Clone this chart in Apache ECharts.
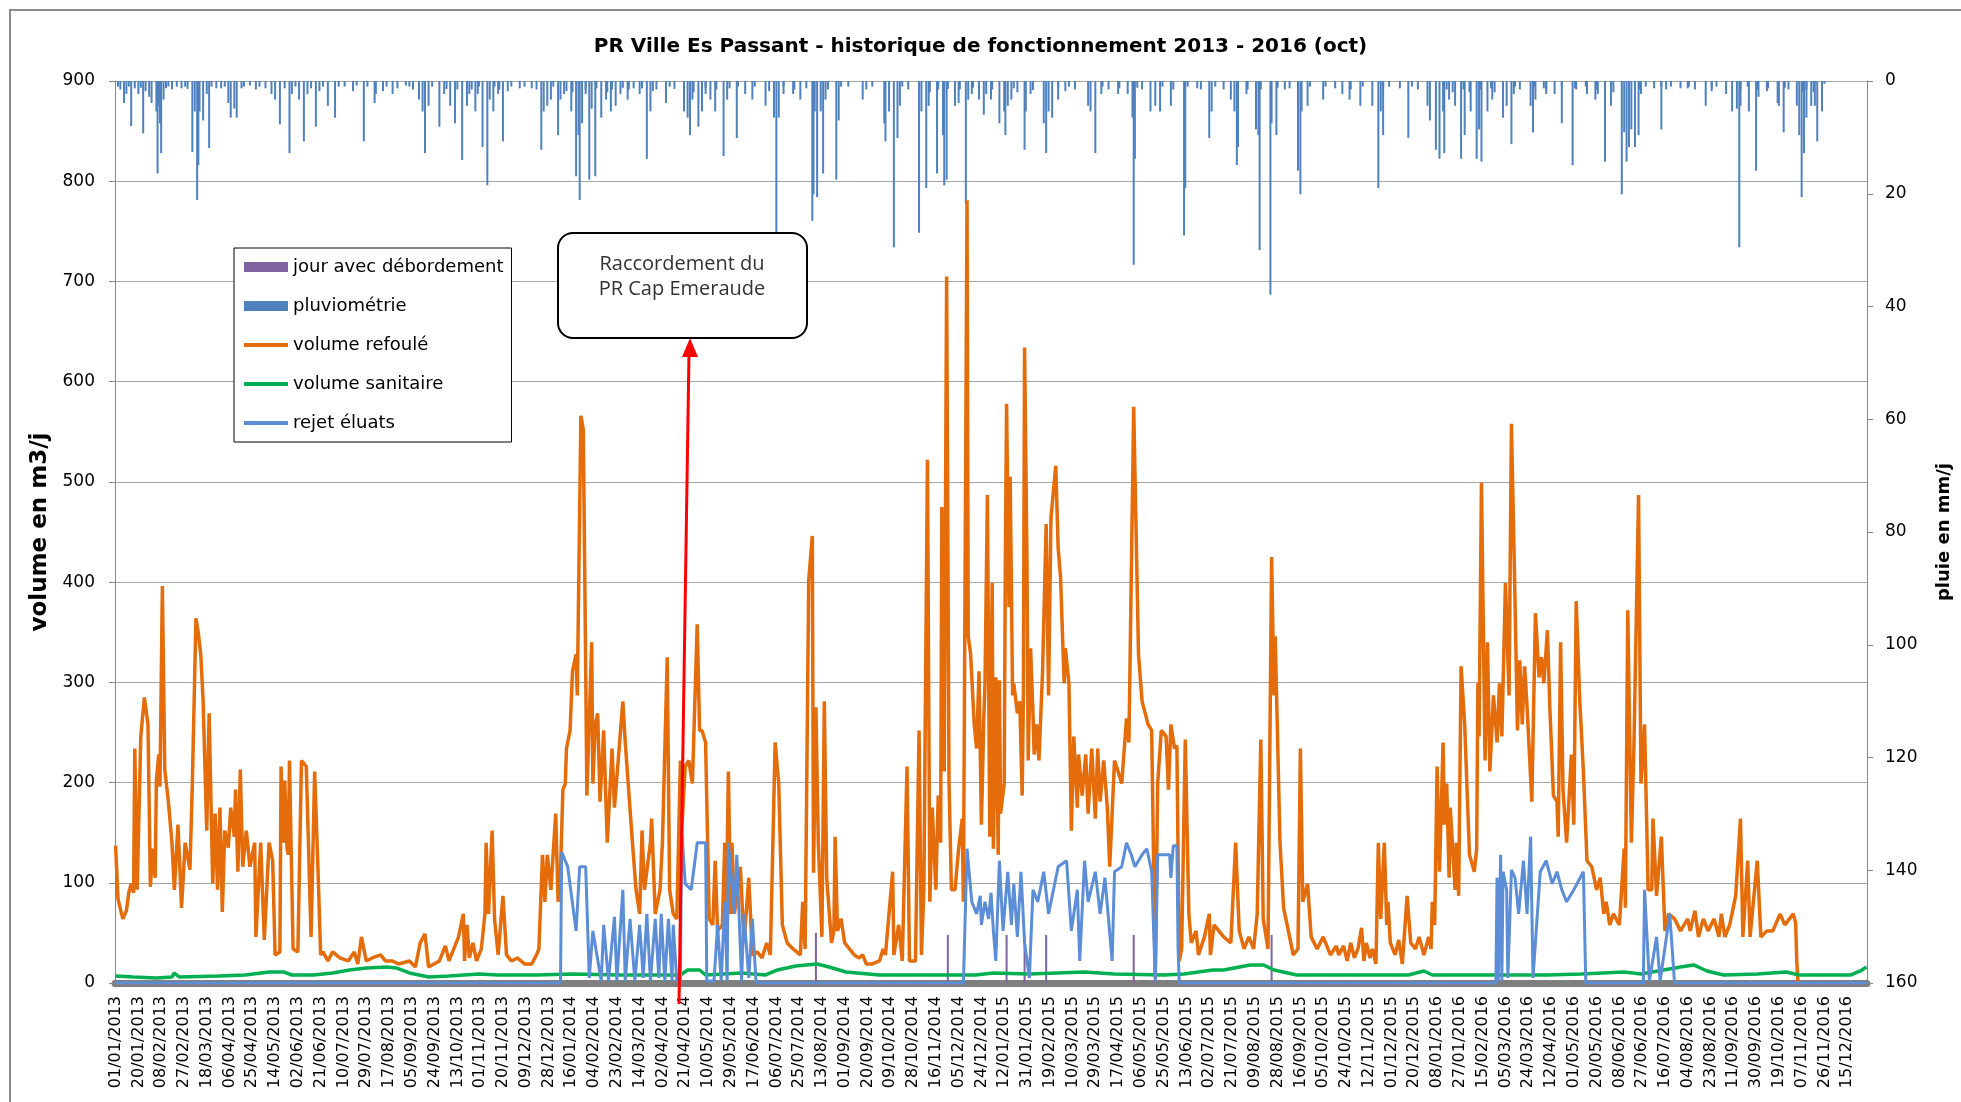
<!DOCTYPE html>
<html>
<head>
<meta charset="utf-8">
<title>PR Ville Es Passant</title>
<script src="https://cdn.jsdelivr.net/npm/echarts@6/dist/echarts.min.js"></script>
<style>
  html, body { margin: 0; padding: 0; background: #fff; }
  #graph { width: 1961px; height: 1102px; }
</style>
</head>
<body>
<div id="graph"></div>
<script>
// jours du 01/01/2013 au 31/12/2016 (axe de categories)
const premierJour = Date.UTC(2013, 0, 1);
const nbJours = 1461;
const jours = [];
for (let i = 0; i < nbJours; i++) {
  const d = new Date(premierJour + i * 86400000);
  const jj = String(d.getUTCDate()).padStart(2, '0');
  const mm = String(d.getUTCMonth() + 1).padStart(2, '0');
  jours.push(jj + '/' + mm + '/' + d.getUTCFullYear());
}

// [indice du jour, m3/j]
const refoule = [[0,137],[2,84],[6,64],[9,72],[11,90],[13,99],[15,90],[16,234],[18,93],[21,246],[24,285],[27,258],[29,96],[31,134],[33,105],[34,202],[36,228],[37,196],[39,396],[41,213],[44,181],[47,140],[49,93],[52,158],[55,75],[58,140],[62,113],[64,199],[67,364],[69,349],[71,328],[73,281],[76,152],[78,269],[81,99],[83,169],[85,93],[87,175],[89,71],[91,152],[94,135],[96,175],[99,146],[100,193],[102,111],[104,213],[106,116],[109,152],[112,116],[116,140],[117,46],[121,140],[124,43],[128,140],[131,122],[133,28],[137,31],[138,216],[140,140],[141,202],[143,134],[144,128],[145,222],[148,34],[152,31],[155,222],
  [159,216],[163,46],[166,211],[169,105],[171,28],[173,31],[177,22],[181,31],[187,25],[194,22],[199,31],[202,19],[205,46],[209,22],[214,25],[221,28],[225,22],[231,22],[236,19],[245,22],[250,16],[254,40],[258,49],[261,16],[270,22],[275,37],[278,22],[282,34],[286,46],[290,69],[291,22],[293,58],[295,25],[298,40],[301,22],[305,34],[308,69],[309,140],[311,69],[314,152],[316,64],[319,28],[323,87],[326,28],[330,22],[335,25],[341,19],[347,19],[351,28],[353,34],[356,128],[358,81],[360,128],[363,93],[367,169],[369,81],[371,111],[373,193],[375,199],[376,234],[379,252],[381,311],[384,328],[385,287],[388,566],[390,552],[392,316],[393,187],[397,340],[398,199],[400,258],[402,269],[404,181],[407,252],[410,140],[414,234],[416,175],[423,281],[425,240],[431,140],[434,93],[437,69],[439,152],[441,93],[446,140],[447,164],[450,69],[454,93],[456,140],[460,325],[462,93],[465,69],[468,64],
  [471,222],[472,150],[475,216],[478,222],[481,199],[485,358],[487,252],[489,252],[492,240],[495,64],[498,58],[500,122],[502,52],[506,58],[508,140],[509,52],[511,211],[513,69],[514,140],[516,69],[518,87],[521,116],[524,40],[528,105],[531,28],[535,31],[539,25],[543,40],[546,28],[550,240],[553,199],[556,58],[560,40],[565,34],[571,28],[573,81],[575,34],[578,402],[581,446],[582,110],[584,275],[586,140],[589,46],[591,281],[593,105],[597,40],[599,52],[600,146],[602,52],[605,64],[608,40],[612,34],[616,28],[620,25],[623,28],[626,19],[631,19],[637,22],[640,34],[642,28],[648,111],[649,28],[653,58],[656,22],[660,216],[662,22],[667,22],[670,252],[672,28],[674,93],[677,522],[679,81],[681,175],[684,93],[686,187],[688,140],[689,475],[691,211],[693,705],[695,199],[697,93],[700,93],[703,134],[706,164],[707,81],[710,781],[711,346],[713,328],[716,258],[718,234],[720,311],[722,158],[724,264],[725,299],[727,487],[729,146],[731,399],[732,134],[734,305],[736,128],[737,302],[738,169],[741,199],[742,428],[743,578],[745,375],[746,505],[748,287],[749,299],[752,269],[754,281],[756,187],[757,287],[758,634],[760,422],[761,222],[763,334],[765,269],[766,228],[768,258],[770,222],[773,311],[776,458],[778,287],[780,464],
  [784,516],[786,434],[788,405],[791,299],[792,334],[795,299],[797,152],[799,246],[802,175],[803,228],[806,187],[809,228],[811,169],[814,234],[817,164],[819,234],[821,181],[824,222],[827,175],[829,116],[833,222],[836,211],[839,199],[843,264],[845,240],[849,575],[853,328],[856,281],[861,258],[864,252],[867,5],[869,199],[872,252],[876,246],[878,193],[880,258],[883,234],[885,237],[887,22],[889,34],[892,243],[895,69],[897,40],[901,52],[903,28],[908,46],[912,69],[913,28],[916,58],[920,52],[924,46],[930,40],[934,140],[937,52],[941,34],[945,46],[949,34],[952,69],[955,243],[957,64],[961,34],[964,425],[966,287],[967,346],[971,140],[974,75],[978,52],[982,28],[986,34],[988,234],[990,81],[994,99],[997,46],[1002,34],[1007,46],[1013,28],[1018,37],[1020,28],[1024,37],[1027,22],[1030,40],[1033,25],[1036,34],[1039,55],[1041,22],[1043,40],[1046,25],[1048,34],[1051,19],[1053,140],[1055,64],[1058,140],[1060,58],[1061,81],[1063,40],[1067,28],[1070,43],[1073,19],[1077,87],[1080,40],[1084,34],[1087,46],[1091,28],
  [1095,46],[1097,34],[1098,81],[1100,58],[1102,216],[1104,111],[1107,240],[1108,158],[1110,199],[1112,105],[1113,175],[1117,93],[1118,140],[1120,87],[1122,316],[1125,258],[1129,128],[1133,111],[1135,134],[1136,299],[1137,246],[1139,499],[1142,222],[1144,340],[1146,211],[1149,287],[1152,240],[1154,299],[1156,246],[1159,399],[1162,287],[1164,558],[1167,380],[1169,252],[1171,322],[1173,258],[1175,316],[1177,276],[1181,181],[1184,369],[1187,305],[1189,325],[1191,299],[1194,352],[1196,276],[1199,187],[1202,181],[1203,146],[1205,340],[1207,193],[1210,140],[1214,228],[1216,158],[1218,381],[1221,281],[1224,211],[1227,122],[1231,116],[1235,93],[1238,105],[1241,69],[1243,81],[1246,58],[1249,69],[1254,58],[1258,134],[1259,75],[1261,372],[1264,140],[1266,228],[1270,487],[1272,199],[1275,258],[1278,93],[1281,93],[1282,164],[1285,87],[1289,146],[1292,52],[1295,69],[1300,64],[1305,52],[1311,64],[1313,52],[1317,72],[1320,46],[1324,64],[1328,52],[1333,64],[1337,46],[1339,69],[1342,46],[1346,58],[1351,87],[1355,164],[1357,46],[1361,122],[1363,46],[1369,122],[1372,46],[1377,52],[1382,52],[1388,69],[1392,58],[1399,69],[1401,60],[1402,20],[1403,0]];

const sanitaire = [[0,7],[15,6],[34,5],[47,6],[49,10],[53,6],[86,7],[108,8],[128,11],[140,11],[147,8],[165,8],[181,10],[195,13],[209,15],[226,16],[234,15],[245,10],[261,6],[278,7],[303,9],[319,8],[351,8],[381,9],[421,8],[471,8],[477,13],[487,13],[492,8],[522,10],[542,8],[552,13],[567,17],[585,19],[595,16],[609,11],[637,8],[692,8],[717,8],[732,10],[762,9],[808,11],[833,9],[874,8],[891,9],[915,13],[924,13],[946,18],[957,18],[966,13],[985,8],[1020,8],[1078,8],[1091,12],[1098,8],[1167,8],[1194,8],[1222,9],[1258,11],[1272,9],[1305,16],[1316,18],[1327,12],[1341,8],[1369,9],[1393,11],[1404,8],[1447,8],[1455,12],[1460,16]];

const eluats = [[0,0],[371,0],[372,131],[377,116],[384,52],[387,116],[392,116],[395,5],[398,52],[405,2],[407,58],[411,2],[416,66],[418,2],[423,93],[425,2],[429,64],[433,2],[437,58],[440,5],[443,69],[446,2],[450,64],[453,5],[455,69],[458,2],[461,64],[464,2],[465,58],[468,2],[471,2],[472,155],[475,99],[480,93],[485,140],[492,140],[493,2],[499,2],[502,58],[505,2],[508,81],[510,2],[511,140],[516,69],[518,128],[522,2],[524,69],[528,5],[531,64],[534,2],[535,0],
  [707,0],[710,134],[714,81],[718,69],[721,87],[722,58],[725,81],[728,64],[730,90],[732,52],[734,22],[737,122],[740,52],[744,111],[747,58],[749,99],[752,46],[755,111],[758,40],[762,5],[765,93],[769,81],[774,111],[778,69],[786,116],[793,122],[797,52],[802,93],[804,22],[808,122],[811,81],[817,111],[821,69],[825,105],[831,22],[833,111],[839,116],[843,140],[847,128],[850,116],[856,128],[860,134],[864,111],[867,2],[869,128],[879,128],[880,105],[882,137],[885,137],[886,34],[887,0],
  [1151,0],[1152,105],[1153,2],[1155,128],[1156,2],[1157,111],[1160,93],[1161,5],[1164,113],[1167,105],[1170,69],[1174,122],[1177,69],[1180,146],[1182,5],[1185,58],[1188,111],[1193,122],[1198,99],[1202,111],[1206,93],[1210,81],[1216,93],[1224,111],[1226,0],
  [1274,0],[1275,93],[1279,2],[1285,46],[1288,2],[1296,69],[1300,0],[1460,0]];

const debordement = [[584,50],[694,48],[743,48],[758,48],[776,48],[849,48],[964,48]];

// [indice du jour, mm/j]
const pluie = [[7,3.9],[9,2.3],[13,8],[16,1.3],[19,2.3],[23,9.3],[25,1.8],[28,2.8],[30,3.9],[34,5.4],[35,16.4],[36,4.4],[37,7.5],[38,12.8],[40,3.3],[42,1.3],[55,1.3],[64,12.6],[66,5.4],[68,21.1],[69,14.9],[70,5.4],[73,7],[76,2.3],[78,11.9],[84,1.3],[94,3.9],[96,6.5],[99,4.9],[101,6.5],[105,1.3],[112,0.8],[125,1.3],[130,2.3],[133,3.3],[137,7.7],[141,1.3],
  [145,12.8],[147,2.3],[153,3.3],[157,10.7],[160,2.3],[163,1.3],[167,8.1],[170,1.8],[177,4.4],[183,6.5],[198,1.8],[207,10.7],[216,3.9],[217,2.3],[223,1.8],[231,2.3],[235,1.3],[242,0.8],[253,3.3],[256,5.4],[258,12.8],[261,4.4],[270,8.1],[274,2.3],[279,4.4],[283,7.5],[289,14],
  [293,4.4],[295,2.3],[300,5.4],[302,2.3],[306,11.7],[310,18.5],[312,3.3],[315,5.4],[319,2.3],[323,10.7],[327,1.8],[337,1.3],[347,1.3],[355,12.2],[357,5.4],[360,4.4],[363,3.3],[369,9.6],[371,3.3],[374,2.3],[380,5.4],[384,16.9],[386,9.6],[387,21.1],[389,7.5],[392,2.3],[395,17.5],[397,4.9],[400,16.9],[405,6.5],[409,3.3],[413,5.4],[417,4.4],[421,2.3],[427,3.3],[432,1.3],
  [437,2.3],[443,13.8],[446,5.4],[448,1.8],[459,3.9],[474,5.4],[477,6.5],[479,9.6],[481,3.3],[486,8.1],[489,5.4],[492,2.3],[496,3.3],[500,5.4],[507,13.3],[510,3.3],[518,10.1],[525,2.3],[531,3.3],[542,4.4],[545,1.8],[549,6.5],[551,31.6],[553,6.5],[557,2.3],[565,2.3],[571,3.3],[576,1.3],[581,24.8],[582,20.1],
  [583,5.4],[585,20.6],[588,5.4],[590,16.4],[592,3.3],[601,17.5],[603,7],[623,3.3],[641,7.5],[642,10.7],[645,5.4],[649,29.5],[652,10.1],[654,4.4],[670,26.9],[672,5.4],[676,19],[678,4.4],[685,16.4],[690,9.6],[691,18.5],[693,17.5],[700,4.4],[703,3.9],[709,21.7],[711,3.3],[714,2.3],[720,3.3],[724,6],[726,2.3],
  [730,3.3],[737,7.5],[741,5.4],[742,9.6],[744,4.4],[747,3.3],[758,12.2],[759,5.4],[763,2.3],[774,7.5],[776,12.8],[778,5.4],[781,6.5],[786,3.3],[792,1.8],[811,4.4],[813,5.4],[817,12.8],[822,2.3],[836,2.3],[844,2.3],[848,6.5],[849,32.6],[850,13.8],[863,5.4],[867,4.4],[871,5.4],
  [880,4.4],[891,27.4],[892,19],[902,1.3],[912,10.1],[914,5.4],[930,3.3],[933,5.4],[935,14.9],[936,11.7],[943,2.3],[951,8.6],[953,9.6],[954,30],[963,37.9],[964,7.5],[968,9.6],[986,15.9],[988,20.1],[989,5.4],[994,4.4],[1007,3.3],[1017,1.3],
  [1023,2.3],[1029,3.3],[1038,4.4],[1048,4.4],[1053,19],[1055,5.4],[1057,9.6],[1071,1.3],[1078,10.1],[1094,4.4],[1096,7],[1101,12.2],[1104,13.8],[1107,5.4],[1108,12.8],[1112,3.3],[1117,4.4],[1122,13.8],[1125,9.6],[1130,5.4],[1135,13.8],[1137,8.6],[1139,14.3],[1144,5.4],[1148,3.3],[1157,6.5],[1160,4.4],[1164,11.2],[1166,2.3],
  [1180,4.4],[1182,9.1],[1184,3.3],[1191,1.3],[1193,2.3],[1200,2.3],[1206,7.5],[1215,14.9],[1217,1.3],[1227,2.3],[1234,3.3],[1236,2.3],[1242,14.3],[1247,4.4],[1256,20.1],[1258,9.1],[1260,14.3],[1262,11.7],[1264,8.6],[1267,11.7],[1270,9.6],[1272,2.3],[1283,1.3],[1289,8.6],[1305,1.3],[1311,1.3],
  [1326,4.4],[1331,1.8],[1343,2.3],[1348,5.4],[1352,4.9],[1354,29.5],[1355,4.4],[1362,5.4],[1368,15.9],[1370,2.8],[1377,1.8],[1386,3.9],[1387,4.4],[1391,9.1],[1402,4.4],[1404,9.6],[1406,20.6],[1408,12.8],[1410,6.5],[1414,4.4],[1417,4.4],[1419,10.7],[1423,5.4],[1425,0.5]];

// petites pluies (frange en haut du graphique)
const pluieFaible = [[2,1],[4,1.5],[11,1],[21,1.2],[44,1],[47,1.5],[51,1],[58,1],[60,1.4],[80,1],[88,1.3],[91,1],[107,1],[117,1.5],[120,1],[150,1],[173,1],[186,1],[191,1],[201,0.8],[210,1],[226,1],[245,1],[248,1.5],[264,1],[276,1.4],[285,1.5],[297,1.5],[303,1],[316,1],[320,1.5],[330,1],[341,1],[351,1.5],[365,1],[376,1.8],[381,2],[392,1.5],[401,1.3],[410,2],[414,1.5],[423,1.2],[428,1.5],[439,1.3],[451,1.5],[462,1],[466,1.4],[482,2],[492,1.2],[501,1.5],[512,1.3],[519,1],[533,1],[557,1],[566,1.5],[594,1.5],[605,1],[611,1],[626,1.5],[631,1],[656,1],[661,1.5],[679,2],[686,1.5],[694,1.4],[704,1.5],[715,1.2],[731,1.5],[749,1.3],[752,2],[765,1.6],[786,1.3],[795,1],[800,1.5],[823,1],[828,1.5],[837,1.3],[852,1.2],[856,1.5],[873,1],[882,1.5],[894,1],[905,1.5],[917,1],[924,1.5],[936,1.3],[944,1.5],[955,1.5],[969,1.2],[975,1.5],[979,1.3],[996,1],[1009,1],[1030,1.5],[1040,1],[1057,1.5],[1062,1],[1081,1],[1086,1.5],[1110,1.5],[1115,2],[1124,1.5],[1129,2],[1138,1.5],[1147,1.3],[1150,2],[1167,1],[1171,1.5],[1183,1],[1193,1.5],[1206,1],[1218,1.5],[1226,1],[1235,1.5],[1247,1.3],[1249,2],[1262,1.5],[1271,1.5],[1276,1],[1289,1],[1293,1.5],[1297,1],[1312,1],[1317,1.5],[1331,1.3],[1335,1],[1355,1.5],[1361,1],[1369,1.5],[1378,1.3],[1392,1.2],[1395,1.5],[1407,2],[1410,1.5],[1416,2]];

const titre = 'PR Ville Es Passant - historique de fonctionnement 2013 - 2016 (oct)';
const trait = 'path://M0,0 L44,0 L44,4 L0,4 Z';
const police = 'DejaVu Sans';

let myChart = echarts.init(document.getElementById('graph'));
let option = {
  animation: false,
  backgroundColor: '#fff',
  title: {
    text: titre,
    left: 'center',
    top: 32,
    textStyle: { fontFamily: police, fontWeight: 'bold', fontSize: 20, color: '#000' }
  },
  grid: { left: 115, right: 90, top: 81, bottom: 119 },
  legend: {
    orient: 'vertical',
    left: 234,
    top: 248,
    padding: [9, 8, 9, 10],
    itemGap: 19,
    itemWidth: 44,
    itemHeight: 10,
    backgroundColor: '#fff',
    borderColor: '#000',
    borderWidth: 1,
    textStyle: { fontFamily: police, fontSize: 18, color: '#000', lineHeight: 20 },
    data: [
      { name: 'jour avec débordement', icon: 'rect', itemStyle: { color: '#8064a2' } },
      { name: 'pluviométrie', icon: 'rect', itemStyle: { color: '#4f81bd' } },
      { name: 'volume refoulé', icon: trait, itemStyle: { color: '#e46c0a' } },
      { name: 'volume sanitaire', icon: trait, itemStyle: { color: '#00b050' } },
      { name: 'rejet éluats', icon: trait, itemStyle: { color: '#5b8ed6' } }
    ]
  },
  xAxis: {
    type: 'category',
    data: jours,
    boundaryGap: true,
    offset: 4,
    axisLine: { lineStyle: { color: '#7f7f7f', width: 7, type: [10, 2.5] } },
    axisTick: { show: false },
    axisLabel: { interval: 18, rotate: 90, margin: 9, fontFamily: police, fontSize: 16, color: '#000' },
    splitLine: { show: false }
  },
  yAxis: [
    {
      type: 'value',
      position: 'left',
      min: 0,
      max: 900,
      interval: 100,
      name: 'volume en m3/j',
      nameLocation: 'middle',
      nameRotate: 90,
      nameGap: 63,
      nameTextStyle: { fontFamily: police, fontWeight: 'bold', fontSize: 23, color: '#000' },
      axisLine: { show: true, lineStyle: { color: '#868686' } },
      axisTick: { show: true, length: 6, lineStyle: { color: '#868686' } },
      axisLabel: { fontFamily: police, fontSize: 17, color: '#000', margin: 20 },
      splitLine: { lineStyle: { color: '#a6a6a6' } }
    },
    {
      type: 'value',
      position: 'right',
      inverse: true,
      min: 0,
      max: 160,
      interval: 20,
      name: 'pluie en mm/j',
      nameLocation: 'middle',
      nameRotate: 90,
      nameGap: 68,
      nameTextStyle: { fontFamily: police, fontWeight: 'bold', fontSize: 18, color: '#000' },
      axisLine: { show: true, lineStyle: { color: '#868686' } },
      axisTick: { show: true, length: 6, lineStyle: { color: '#868686' } },
      axisLabel: { fontFamily: police, fontSize: 17, color: '#000', margin: 18 },
      splitLine: { show: false }
    }
  ],
  series: [
    {
      name: 'jour avec débordement',
      type: 'bar',
      yAxisIndex: 0,
      data: debordement,
      barWidth: 2,
      barGap: '-100%',
      itemStyle: { color: '#8064a2' }
    },
    {
      name: 'pluviométrie',
      type: 'bar',
      yAxisIndex: 1,
      data: pluie.concat(pluieFaible),
      barWidth: 2,
      barGap: '-100%',
      itemStyle: { color: '#4f81bd' }
    },
    {
      name: 'volume refoulé',
      type: 'line',
      data: refoule,
      symbol: 'none',
      lineStyle: { width: 3.5, color: '#e46c0a' },
      itemStyle: { color: '#e46c0a' }
    },
    {
      name: 'volume sanitaire',
      type: 'line',
      data: sanitaire,
      symbol: 'none',
      lineStyle: { width: 3.5, color: '#00b050' },
      itemStyle: { color: '#00b050' }
    },
    {
      name: 'rejet éluats',
      type: 'line',
      data: eluats,
      symbol: 'none',
      lineStyle: { width: 3, color: '#5b8ed6' },
      itemStyle: { color: '#5b8ed6' }
    }
  ],
  graphic: [
    // cadre du graphique
    { type: 'rect', silent: true, shape: { x: 10, y: 10, width: 1960, height: 1100 }, style: { fill: 'none', stroke: '#8c8c8c', lineWidth: 2 } },
    // fleche rouge
    { type: 'line', silent: true, z: 10, shape: { x1: 679, y1: 1004, x2: 689, y2: 352 }, style: { stroke: '#ff0000', lineWidth: 3 } },
    { type: 'polygon', silent: true, z: 10, shape: { points: [[690, 338], [682, 357], [698, 357]] }, style: { fill: '#ff0000' } },
    // bulle d'annotation
    { type: 'rect', silent: true, z: 10, shape: { x: 558, y: 233, width: 249, height: 105, r: 15 }, style: { fill: '#fff', stroke: '#000', lineWidth: 2 } },
    {
      type: 'text', silent: true, z: 11,
      style: {
        x: 682, y: 252,
        text: 'Raccordement du\nPR Cap Emeraude',
        align: 'center',
        verticalAlign: 'top',
        lineHeight: 25,
        fontFamily: 'Open Sans',
        fontSize: 20,
        fill: '#333'
      }
    }
  ]
};
myChart.setOption(option);
</script>
</body>
</html>
